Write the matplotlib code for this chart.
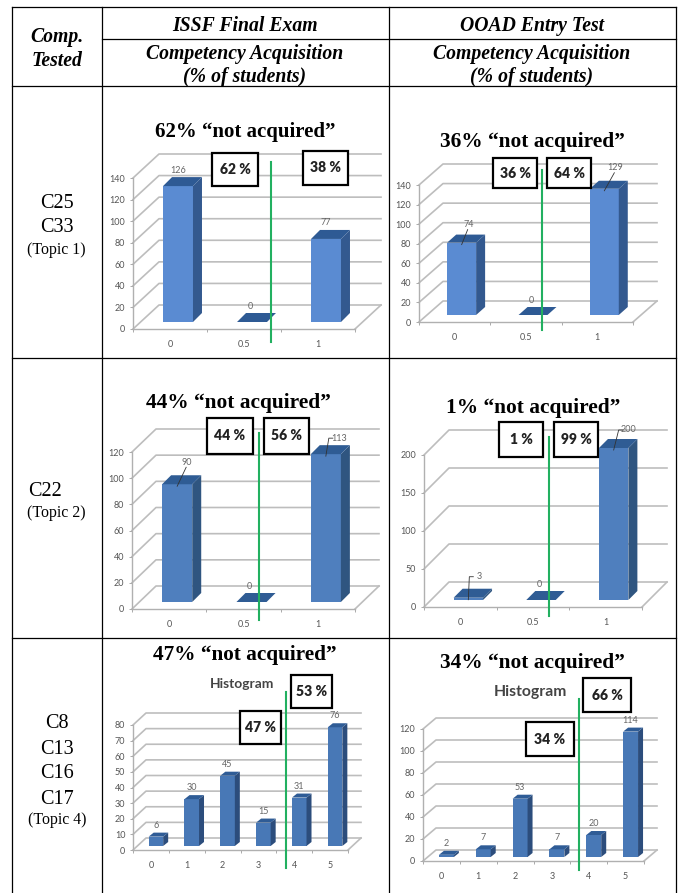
import matplotlib
matplotlib.use('Agg')
import matplotlib.pyplot as plt
from matplotlib.patches import Polygon, Rectangle

SERIF = 'Liberation Serif'
SANS = 'Lato'
WIDTH, HEIGHT = 681, 893

# values
binary_cats = ['0', '0.5', '1']
hist_cats = ['0', '1', '2', '3', '4', '5']

issf_t1_vals = [126, 0, 77]
ooad_t1_vals = [74, 0, 129]
issf_t2_vals = [90, 0, 113]
ooad_t2_vals = [3, 0, 200]
issf_t4_vals = [6, 30, 45, 15, 31, 76]
ooad_t4_vals = [2, 7, 53, 7, 20, 114]

issf_t1_ticks = list(range(0, 141, 20))
ooad_t1_ticks = list(range(0, 141, 20))
issf_t2_ticks = list(range(0, 121, 20))
ooad_t2_ticks = list(range(0, 201, 50))
issf_t4_ticks = list(range(0, 81, 10))
ooad_t4_ticks = list(range(0, 121, 20))

titles = ['62% “not acquired”', '36% “not acquired”', '44% “not acquired”',
          '1% “not acquired”', '47% “not acquired”', '34% “not acquired”']
box_labels = [('62 %', '38 %'), ('36 %', '64 %'), ('44 %', '56 %'),
              ('1 %', '99 %'), ('47 %', '53 %'), ('34 %', '66 %')]

col_headers = ['ISSF Final Exam', 'OOAD Entry Test']
sub_header = ['Competency Acquisition', '(% of students)']

BLUE_LIGHT = ('#5a8bd2', '#33598f', '#2e5a94')
BLUE_MID = ('#4f7fbe', '#2f5580', '#2f5c94')
BLUE_DARK = ('#4878b6', '#2c4d7c', '#2f5c96')

# left, right, y of 0, y of top tick (pixels), wall depth, bar lift, bar depth
charts = [
    dict(cats=binary_cats, vals=issf_t1_vals, ticks=issf_t1_ticks, frame=(133, 355, 329, 178),
         wall=(26, 24), lift=(8, 7), depth=(9, 9), colors=BLUE_LIGHT, title_size=15,
         title=(245, 130), green=(271, 162, 342), boxes=[(212, 153, 46, 33), (303, 151, 45, 34)],
         label_off=[(0, 2), (-2, 2), (0, 3)], leaders=[None, None, None]),
    dict(cats=binary_cats, vals=ooad_t1_vals, ticks=ooad_t1_ticks, frame=(419, 633, 322, 185),
         wall=(24, 21), lift=(7, 7), depth=(9, 8), colors=BLUE_LIGHT, title_size=15.4,
         title=(532, 140), green=(542, 170, 330), boxes=[(493, 158, 44, 30), (547, 158, 44, 30)],
         label_off=[(7, 10), (-2, 2), (11, 13)], leaders=['slant', None, 'slant']),
    dict(cats=binary_cats, vals=issf_t2_vals, ticks=issf_t2_ticks, frame=(132, 355, 609, 452),
         wall=(24, 23), lift=(8, 7), depth=(9, 9), colors=BLUE_MID, title_size=15.4,
         title=(238, 401), green=(259, 433, 620), boxes=[(207, 418, 46, 36), (264, 418, 45, 36)],
         label_off=[(10, 13), (-2, 2), (13, 7)], leaders=['slant', None, 'hook']),
    dict(cats=binary_cats, vals=ooad_t2_vals, ticks=ooad_t2_ticks, frame=(424, 642, 607, 455),
         wall=(25, 25), lift=(8, 7), depth=(9, 9), colors=BLUE_MID, title_size=15.4,
         title=(533, 406), green=(549, 437, 616), boxes=[(499, 422, 44, 35), (554, 422, 44, 35)],
         label_off=[(11, 12), (-2, 2), (15, 9)], leaders=['hook', None, 'hook']),
    dict(cats=hist_cats, vals=issf_t4_vals, ticks=issf_t4_ticks, frame=(133, 348, 850, 725),
         wall=(13, 12), lift=(5, 4), depth=(5, 4), colors=BLUE_DARK, title_size=15.3,
         title=(245, 653), green=(286, 692, 868), boxes=[(240, 711, 41, 33), (291, 675, 41, 33)],
         label_off=[(0, 3)] * 6, leaders=[None] * 6, hist=(242, 684), hist_size=9.9),
    dict(cats=hist_cats, vals=ooad_t4_vals, ticks=ooad_t4_ticks, frame=(423, 644, 861, 729),
         wall=(13, 11), lift=(5, 4), depth=(5, 4), colors=BLUE_DARK, title_size=15.4,
         title=(532, 661), green=(579, 699, 870), boxes=[(526, 722, 48, 34), (583, 678, 48, 34)],
         label_off=[(0, 3)] * 6, leaders=[None] * 6, hist=(530, 692), hist_size=11.3),
]


def draw_chart(fig, chart):
    left, right, y0, ytop = chart['frame']
    cats, vals, ticks = chart['cats'], chart['vals'], chart['ticks']
    n = len(cats)
    ymax = ticks[-1]
    ax = fig.add_axes([left / WIDTH, 1 - y0 / HEIGHT, (right - left) / WIDTH, (y0 - ytop) / HEIGHT])
    ax.patch.set_alpha(0)
    ax.set_xlim(0, n)
    ax.set_ylim(0, ymax)

    # pixels to data units
    px_x = n / (right - left)
    px_y = ymax / (y0 - ytop)
    wall_x, wall_y = chart['wall'][0] * px_x, chart['wall'][1] * px_y
    lift_x, lift_y = chart['lift'][0] * px_x, chart['lift'][1] * px_y
    depth_x, depth_y = chart['depth'][0] * px_x, chart['depth'][1] * px_y

    for t in ticks:
        ax.plot([0, wall_x, n + wall_x], [t, t + wall_y, t + wall_y], color='#bdbdbd', lw=1.2,
                clip_on=False, zorder=1)
    ax.plot([n, n + wall_x], [0, wall_y], color='#bdbdbd', lw=1.2, clip_on=False, zorder=1)

    width = 0.405
    front, side, top = chart['colors']
    pos = [i + 0.5 + lift_x for i in range(n)]
    ax.bar(pos, vals, width=width, bottom=lift_y, color=front, zorder=3, clip_on=False)
    for x, v, off, leader in zip(pos, vals, chart['label_off'], chart['leaders']):
        h = v + lift_y
        x0, x1 = x - width / 2, x + width / 2
        if v > 0:
            ax.add_patch(Polygon([(x1, lift_y), (x1 + depth_x, lift_y + depth_y),
                                  (x1 + depth_x, h + depth_y), (x1, h)],
                                 facecolor=side, edgecolor='none', zorder=3, clip_on=False))
        ax.add_patch(Polygon([(x0, h), (x0 + depth_x, h + depth_y), (x1 + depth_x, h + depth_y), (x1, h)],
                             facecolor=top, edgecolor='none', zorder=3, clip_on=False))
        lx = x + off[0] * px_x
        ly = h + depth_y + off[1] * px_y
        ax.text(lx, ly, str(v), ha='center', va='bottom' if leader is None else 'center',
                fontsize=6.5, color='#666666', family=SANS, zorder=5, clip_on=False)
        if leader == 'slant':
            ax.plot([x, lx - 1 * px_x], [h - 2 * px_y, ly - 5 * px_y], color='#333333', lw=0.6, zorder=4,
                    clip_on=False)
        elif leader == 'hook':
            hx = lx - 10 * px_x
            ax.plot([x, hx, lx - 6 * px_x], [h - 2 * px_y, ly, ly], color='#333333', lw=0.6, zorder=4,
                    clip_on=False)

    ax.set_yticks(ticks)
    ax.set_xticks([i + 0.5 for i in range(n)], cats)
    ax.set_xticks(range(n + 1), minor=True)
    ax.tick_params(axis='x', which='major', length=0, pad=8, labelsize=6.5, labelcolor='#555555')
    ax.tick_params(axis='x', which='minor', length=2.5, color='#aaaaaa', width=0.7)
    ax.tick_params(axis='y', length=2.5, color='#aaaaaa', width=0.7, pad=3, labelsize=6.5, labelcolor='#555555')
    for label in ax.get_xticklabels() + ax.get_yticklabels():
        label.set_family(SANS)
    for name in ['top', 'right']:
        ax.spines[name].set_visible(False)
    for name in ['left', 'bottom']:
        ax.spines[name].set_color('#b0b0b0')
        ax.spines[name].set_linewidth(1.0)


fig = plt.figure(figsize=(WIDTH / 100, HEIGHT / 100), dpi=100)
fig.patch.set_facecolor('white')

for chart in charts:
    draw_chart(fig, chart)

# table, titles and call-outs on a pixel overlay
over = fig.add_axes([0, 0, 1, 1], zorder=10)
over.set_xlim(0, WIDTH)
over.set_ylim(HEIGHT, 0)
over.axis('off')

for x in [12, 102, 389, 676]:
    over.plot([x, x], [7, HEIGHT], color='black', lw=0.9)
over.plot([12, 676], [7, 7], color='black', lw=0.9)
over.plot([102, 676], [39, 39], color='black', lw=0.9)
for y in [86, 358, 638]:
    over.plot([12, 676], [y, y], color='black', lw=0.9)

# text sits about 2 px high with va='center'
head = dict(family=SERIF, fontsize=14.2, fontweight='bold', fontstyle='italic', ha='center', va='center')
over.text(57, 37, 'Comp.', **head)
over.text(57, 61, 'Tested', **head)
for cx, name in zip([245, 532], col_headers):
    over.text(cx, 26, name, **head)
    over.text(cx, 54, sub_header[0], **head)
    over.text(cx, 77, sub_header[1], **head)

big = dict(family=SERIF, fontsize=14.5, ha='center', va='center')
small = dict(family=SERIF, fontsize=11.4, ha='center', va='center')
over.text(57, 204, 'C25', **big)
over.text(57, 228, 'C33', **big)
over.text(56, 250, '(Topic 1)', **small)
over.text(45, 492, 'C22', **big)
over.text(56, 513, '(Topic 2)', **small)
for y, name in zip([724, 749, 774, 799], ['C8', 'C13', 'C16', 'C17']):
    over.text(57, y, name, **big)
over.text(57, 820, '(Topic 4)', **small)

for chart, title, labels in zip(charts, titles, box_labels):
    over.text(chart['title'][0], chart['title'][1] + 2, title, family=SERIF, fontsize=chart['title_size'],
              fontweight='bold', ha='center', va='center')
    gx, gy0, gy1 = chart['green']
    over.plot([gx, gx], [gy0, gy1], color='#22b060', lw=1.5)
    for (bx, by, bw, bh), label in zip(chart['boxes'], labels):
        over.add_patch(Rectangle((bx, by), bw, bh, facecolor='white', edgecolor='black', lw=1.6, zorder=6))
        over.text(bx + bw / 2, by + bh / 2, label, family=SANS, fontsize=10, fontweight='heavy', color='#222222',
                  ha='center', va='center', zorder=7)
    if 'hist' in chart:
        over.text(chart['hist'][0], chart['hist'][1], 'Histogram', family=SANS, fontsize=chart['hist_size'],
                  fontweight='bold', color='#444444', ha='center', va='center')

fig.savefig('out.png', dpi=100)
